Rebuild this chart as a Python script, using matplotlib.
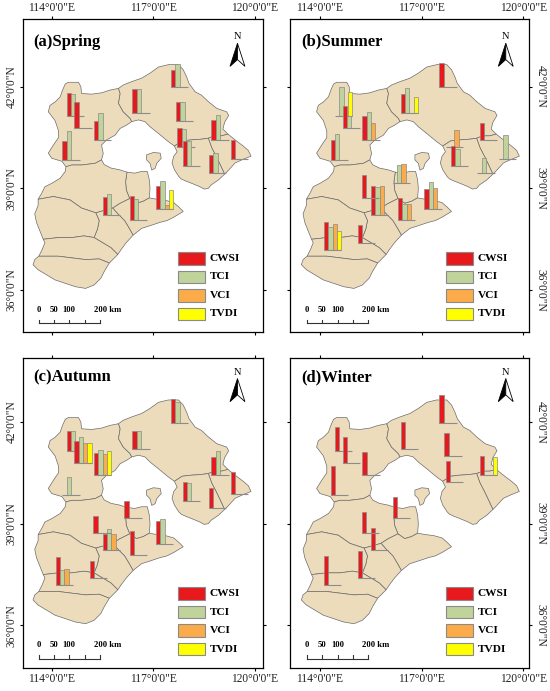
import matplotlib
matplotlib.use('Agg')
import matplotlib.pyplot as plt
from matplotlib.patches import Polygon

plt.rcParams['font.family'] = ['Liberation Serif', 'DejaVu Serif']

# ---------------- data ----------------
index_names = ['CWSI', 'TCI', 'VCI', 'TVDI']
index_colors = ['#e8191d', '#bfd39b', '#fbab4a', '#ffff00']
season_titles = ['(a)Spring', '(b)Summer', '(c)Autumn', '(d)Winter']

station_lon = [114.44, 114.67, 115.25, 114.31, 116.38, 117.52, 117.67, 118.71, 117.71, 117.86,
               119.28, 118.64, 115.50, 116.30, 117.08, 116.14, 115.23, 114.12, 115.12]
station_lat = [41.15, 40.78, 40.43, 39.85, 41.21, 41.98, 40.99, 40.44, 40.23, 39.67,
               39.87, 39.45, 38.22, 38.08, 38.40, 39.17, 38.73, 37.18, 37.39]

spring_values = [[0.67, 0.65, 0, 0], [0.77, 0, 0, 0], [0.57, 0.82, 0, 0], [0.57, 0.87, 0, 0],
                 [0.73, 0.73, 0, 0], [0.52, 0.69, 0, 0], [0.56, 0.58, 0, 0], [0.60, 0.75, 0, 0],
                 [0.55, 0.52, 0, 0], [0.73, 0.73, 0, 0], [0.57, 0, 0, 0], [0.55, 0.62, 0, 0],
                 [0.55, 0.63, 0, 0], [0.72, 0.62, 0, 0], [0.67, 0.85, 0.12, 0.55], [0, 0, 0, 0],
                 [0, 0, 0, 0], [0, 0, 0, 0], [0, 0, 0, 0]]
summer_values = [[0, 0.85, 0, 0.71], [0.67, 0.37, 0, 0], [0.71, 0.83, 0.50, 0], [0.60, 0.76, 0, 0],
                 [0.58, 0.78, 0, 0.50], [0.72, 0, 0, 0], [0, 0, 0, 0], [0.51, 0, 0, 0],
                 [0, 0, 0.49, 0], [0.58, 0.51, 0, 0], [0, 0.73, 0, 0], [0, 0.47, 0, 0],
                 [0.88, 0.83, 0.88, 0], [0.65, 0.48, 0.48, 0], [0.58, 0.81, 0.63, 0], [0, 0.53, 0.55, 0],
                 [0.68, 0, 0, 0], [0.85, 0.70, 0.78, 0.57], [0.55, 0, 0, 0]]
autumn_values = [[0.60, 0.59, 0, 0], [0.68, 0.78, 0.62, 0.60], [0.68, 0.75, 0.65, 0.72], [0, 0.55, 0, 0],
                 [0.55, 0.55, 0, 0], [0.71, 0.63, 0, 0], [0, 0, 0, 0], [0.55, 0.72, 0, 0],
                 [0, 0, 0, 0], [0.58, 0.53, 0, 0], [0.68, 0, 0, 0], [0.62, 0, 0, 0],
                 [0.50, 0.63, 0.50, 0], [0.73, 0, 0, 0], [0.68, 0.76, 0, 0], [0.52, 0, 0, 0],
                 [0.51, 0, 0, 0], [0.86, 0.46, 0.50, 0], [0.53, 0, 0, 0]]
winter_values = [[0.73, 0, 0, 0], [0.80, 0, 0, 0], [0.70, 0, 0, 0], [0.88, 0, 0, 0],
                 [0.80, 0, 0, 0], [0.83, 0, 0, 0], [0.70, 0, 0, 0], [0.58, 0, 0, 0.55],
                 [0.62, 0, 0, 0], [0, 0, 0, 0], [0, 0, 0, 0], [0, 0, 0, 0],
                 [0.68, 0, 0, 0], [0, 0, 0, 0], [0, 0, 0, 0], [0.63, 0, 0, 0],
                 [0.64, 0, 0, 0], [0.87, 0, 0, 0], [0.82, 0, 0, 0]]
season_values = [spring_values, summer_values, autumn_values, winter_values]

lon_ticks = [114, 117, 120]
lon_labels = ['114°0\'0"E', '117°0\'0"E', '120°0\'0"E']
lat_ticks = [36, 39, 42]
lat_labels = ['36°0\'0"N', '39°0\'0"N', '42°0\'0"N']

scale_km = [0, 50, 100, 150, 200]
scale_labels = ['0', '50', '100', '', '200 km']

# ---------------- map outlines (lon, lat) ----------------
J_BZ = (114.42, 39.64); J_BZB = (115.47, 39.84); J_ZCB = (116.36, 40.97); J_ZCn = (115.97, 41.95)
J_CQe = (119.2, 40.6); J_CTQ = (118.62, 40.48); J_CTT = (117.62, 40.25); J_QTc = (119.1, 39.42)
J_TTc = (117.82, 39.28); J_BLB = (116.22, 39.48); J_LBT = (116.82, 39.5); J_BLC = (116.3, 38.7)
J_LCT = (116.88, 38.72); J_CTc = (117.6, 38.58); J_BHC = (115.8, 38.42); J_BSH = (115.3, 38.28)
J_SB = (113.6, 38.68); J_SHX = (115.25, 37.55); J_SX = (113.75, 37.5); J_CH = (116.4, 37.62)
J_HX = (115.95, 37.05); J_XH = (115.7, 36.8); J_XHw = (113.62, 37.0)

S_ZJK_outer = [J_BZ, (114.3, 39.8), (114.0, 39.89), (113.9, 40.04), (114.05, 40.28), (114.2, 40.5),
               (114.2, 40.7), (114.1, 41.0), (113.9, 41.26), (113.95, 41.45), (114.1, 41.55),
               (114.25, 41.7), (114.32, 41.9), (114.4, 42.08), (114.49, 42.13), (114.79, 42.13),
               (114.86, 42.0), (114.88, 41.8), (115.18, 41.78), (115.47, 41.82), (115.72, 41.9), J_ZCn]
S_ZC = [J_ZCn, (116.02, 41.8), (115.97, 41.51), (116.11, 41.26), (116.31, 41.07), J_ZCB]
S_ZB = [J_ZCB, (116.21, 40.87), (116.02, 40.77), (115.87, 40.57), (115.62, 40.43), (115.47, 40.28),
        (115.52, 40.03), J_BZB]
S_BZ = [J_BZB, (115.28, 39.74), (114.88, 39.69), (114.59, 39.69), J_BZ]
S_C_outer = [J_ZCn, (116.11, 42.05), (116.36, 42.15), (116.65, 42.25), (116.9, 42.4), (117.15, 42.58),
             (117.44, 42.65), (117.74, 42.65), (117.88, 42.5), (117.98, 42.29), (118.05, 42.1),
             (118.23, 41.85), (118.42, 41.75), (118.62, 41.56), (118.87, 41.36), (119.16, 41.26),
             (119.22, 41.15), (119.1, 40.95), (119.05, 40.75), J_CQe]
S_CQ = [J_CQe, (119.0, 40.55), (118.8, 40.55), J_CTQ]
S_CT = [J_CTQ, (118.4, 40.45), (118.1, 40.43), (117.85, 40.4), J_CTT]
S_CB = [J_CTT, (117.44, 40.38), (117.15, 40.62), (116.9, 40.82), (116.75, 40.97), (116.56, 41.02), J_ZCB]
S_Q_outer = [J_CQe, (119.45, 40.4), (119.65, 40.25), (119.8, 40.12), (119.88, 39.95), (119.65, 39.86),
             (119.41, 39.75), (119.31, 39.64), (119.2, 39.52), J_QTc]
S_QT = [J_QTc, (118.97, 39.7), (118.85, 39.95), (118.72, 40.2), J_CTQ]
S_T_coast = [J_QTc, (118.92, 39.25), (118.7, 39.1), (118.62, 39.0), (118.5, 38.98), (118.37, 39.05),
             (118.13, 39.15), (117.95, 39.22), J_TTc]
S_TTj = [J_TTc, (117.75, 39.35), (117.62, 39.55), (117.55, 39.75), (117.6, 39.95), (117.7, 40.08), J_CTT]
S_BL = [J_BLB, (116.18, 39.2), (116.2, 38.95), J_BLC]
S_LB = [J_BLB, (116.45, 39.45), (116.65, 39.5), J_LBT]
S_LT = [J_LBT, (116.88, 39.25), (116.9, 39.0), J_LCT]
S_LC = [J_BLC, (116.5, 38.56), (116.7, 38.62), J_LCT]
S_B_outer = [J_SB, (113.7, 38.85), (113.8, 39.05), (114.0, 39.15), (114.25, 39.3), (114.4, 39.5), J_BZ]
S_BB = [J_BZB, (115.55, 39.7), (115.75, 39.6), (116.0, 39.55), J_BLB]
S_BC = [J_BLC, (116.0, 38.55), J_BHC]
S_BH = [J_BSH, (115.55, 38.35), J_BHC]
S_BS = [J_SB, (114.05, 38.76), (114.54, 38.66), (114.88, 38.42), J_BSH]
S_CTj = [J_LCT, (117.1, 38.68), (117.35, 38.65), J_CTc]
S_C_coast = [J_CTc, (117.75, 38.45), (117.88, 38.32), (117.6, 38.15), (117.4, 38.05), (117.2, 38.0),
             (116.9, 37.9), (116.65, 37.82), J_CH]
S_CHs = [J_CH, (116.3, 37.8), (116.15, 38.05), (115.95, 38.25), J_BHC]
S_SH = [J_BSH, (115.4, 38.05), (115.35, 37.8), J_SHX]
S_HX = [J_SHX, (115.5, 37.4), (115.75, 37.25), J_HX]
S_H_outer = [J_CH, (116.2, 37.4), (116.05, 37.2), J_HX]
S_S_outer = [J_SX, (113.65, 37.75), (113.55, 38.0), (113.5, 38.25), (113.6, 38.5), J_SB]
S_SX = [J_SHX, (114.95, 37.6), (114.6, 37.55), (114.2, 37.55), J_SX]
S_X_e = [J_HX, (115.8, 36.9), J_XH]
S_XH = [J_XH, (115.4, 36.92), (115.0, 36.9), (114.6, 36.95), (114.2, 37.0), J_XHw]
S_X_w = [J_XHw, (113.72, 37.2), (113.8, 37.4), J_SX]
S_HD_outer = [J_XH, (115.55, 36.55), (115.45, 36.35), (115.25, 36.15), (115.0, 36.05), (114.7, 36.1),
              (114.4, 36.2), (114.1, 36.3), (113.85, 36.45), (113.6, 36.6), (113.45, 36.75),
              (113.5, 36.9), J_XHw]
langfang_exclave = [(116.8, 39.99), (117.0, 40.06), (117.2, 40.04), (117.23, 39.89), (117.1, 39.74),
                    (117.05, 39.59), (116.95, 39.54), (116.9, 39.74), (116.8, 39.84)]


def rev(s):
    return s[::-1]


regions = [
    S_ZJK_outer + S_ZC[1:] + S_ZB[1:] + S_BZ[1:-1],
    S_C_outer + S_CQ[1:] + S_CT[1:] + S_CB[1:] + rev(S_ZC)[1:-1],
    S_Q_outer + S_QT[1:] + rev(S_CQ)[1:-1],
    S_T_coast + S_TTj[1:] + rev(S_CT)[1:] + rev(S_QT)[1:-1],
    S_LB + S_LT[1:] + rev(S_LC)[1:] + rev(S_BL)[1:-1],
    langfang_exclave,
    S_B_outer + rev(S_BZ)[1:] + S_BB[1:] + S_BL[1:] + S_BC[1:] + rev(S_BH)[1:] + rev(S_BS)[1:-1],
    S_LC + S_CTj[1:] + S_C_coast[1:] + S_CHs[1:] + rev(S_BC)[1:-1],
    S_BH + rev(S_CHs)[1:] + S_H_outer[1:] + rev(S_HX)[1:] + rev(S_SH)[1:-1],
    S_S_outer + S_BS[1:] + S_SH[1:] + S_SX[1:-1],
    S_HX + S_X_e[1:] + S_XH[1:] + S_X_w[1:] + rev(S_SX)[1:-1],
    S_HD_outer + rev(S_XH)[1:-1],
]

# ---------------- layout ----------------
W, H = 550, 691
fig = plt.figure(figsize=(W / 100, H / 100), dpi=100)

# frame boxes in pixels: (left, right, top, bottom), and the pixel of 114E / 42N
panels = [
    dict(box=(23, 263, 19, 332), x114=51.7, y42=86.7, xlab='top', ylab='left'),
    dict(box=(290, 529, 19, 332), x114=320.0, y42=86.7, xlab='top', ylab='right'),
    dict(box=(23, 263, 358, 668), x114=51.7, y42=422.0, xlab='bottom', ylab='left'),
    dict(box=(290, 529, 358, 668), x114=320.0, y42=422.0, xlab='bottom', ylab='right'),
]
PPD = 33.9  # pixels per degree

slot_w = 0.128
bar_scale = 0.98
map_fill = '#eddcbc'
edge_grey = '#7a7a7a'

for k, p in enumerate(panels):
    l, r, t, b = p['box']
    ax = fig.add_axes([l / W, 1 - b / H, (r - l) / W, (b - t) / H])
    ax.set_xlim(114 - (p['x114'] - l) / PPD, 114 + (r - p['x114']) / PPD)
    ax.set_ylim(42 - (b - p['y42']) / PPD, 42 + (p['y42'] - t) / PPD)

    for poly in regions:
        ax.add_patch(Polygon(poly, closed=True, facecolor=map_fill, edgecolor='#6c6c6c',
                             linewidth=0.5, zorder=1))

    # mini bar charts
    vals = season_values[k]
    for i in range(len(station_lon)):
        v = vals[i]
        if max(v) <= 0:
            continue
        x0 = station_lon[i]
        y0 = station_lat[i]
        for j in range(4):
            if v[j] > 0:
                ax.bar(x0 + j * slot_w, v[j] * bar_scale, width=slot_w, bottom=y0, align='edge',
                       color=index_colors[j], edgecolor='#8a8a8a', linewidth=0.5, zorder=3 + i * 0.01)
        ax.plot([x0, x0 + 4 * slot_w], [y0, y0], color='#8c8c8c', linewidth=0.8,
                solid_capstyle='butt', zorder=3 + i * 0.01)

    # title
    ax.text(113.45, 43.33, season_titles[k], fontsize=12, fontweight='bold', ha='left', va='center',
            color='black', zorder=5)

    # north arrow
    ax_x, tip, base, notch, hw = 119.48, 43.28, 42.6, 42.8, 0.22
    ax.add_patch(Polygon([(ax_x, tip), (ax_x - hw, base), (ax_x, notch)], closed=True,
                         facecolor='black', edgecolor='black', linewidth=0.6, zorder=5))
    ax.add_patch(Polygon([(ax_x, tip), (ax_x + hw, base), (ax_x, notch)], closed=True,
                         facecolor='white', edgecolor='black', linewidth=0.6, zorder=5))
    ax.text(ax_x, 43.47, 'N', fontsize=7.5, ha='center', va='center', zorder=5)

    # legend
    leg_x, leg_top, leg_w, leg_h, leg_step = 117.72, 37.12, 0.80, 0.37, 0.545
    for j, name in enumerate(index_names):
        yy = leg_top - j * leg_step
        ax.add_patch(plt.Rectangle((leg_x, yy - leg_h), leg_w, leg_h, facecolor=index_colors[j],
                                   edgecolor='#8a8a8a', linewidth=0.8, zorder=5))
        ax.text(leg_x + leg_w + 0.14, yy - leg_h / 2, name, fontsize=8.2, fontweight='bold',
                ha='left', va='center', zorder=5)

    # scale bar
    sb_x0, sb_y, deg_per_km, tick_h = 113.62, 35.02, 0.009, 0.1
    ax.plot([sb_x0, sb_x0 + scale_km[-1] * deg_per_km], [sb_y, sb_y], color='#333333',
            linewidth=0.8, zorder=5)
    for km, lab in zip(scale_km, scale_labels):
        xx = sb_x0 + km * deg_per_km
        ax.plot([xx, xx], [sb_y, sb_y + tick_h], color='#333333', linewidth=0.8, zorder=5)
        if lab:
            if 'km' in lab:
                ax.text(xx - 0.17, sb_y + 0.4, lab, fontsize=6.2, fontweight='bold', ha='left',
                        va='center', zorder=5)
            else:
                ax.text(xx, sb_y + 0.4, lab, fontsize=6.2, fontweight='bold', ha='center',
                        va='center', zorder=5)

    # ticks
    ax.set_xticks(lon_ticks)
    ax.set_yticks(lat_ticks)
    ax.set_xticklabels(lon_labels, fontsize=8.3, color='#222222')
    if p['ylab'] == 'left':
        ax.set_yticklabels(lat_labels, fontsize=8.3, color='#222222', rotation=90, va='center')
    else:
        ax.set_yticklabels(lat_labels, fontsize=8.3, color='#222222', rotation=-90, va='center',
                           ha='left')
    ax.tick_params(axis='both', which='both', direction='out', length=2.3, width=0.8, pad=1.5,
                   top=True, bottom=True, left=True, right=True,
                   labeltop=(p['xlab'] == 'top'), labelbottom=(p['xlab'] == 'bottom'),
                   labelleft=(p['ylab'] == 'left'), labelright=(p['ylab'] == 'right'))
    for s in ax.spines.values():
        s.set_linewidth(0.9)
        s.set_color('black')

fig.savefig('out.png', dpi=100)
